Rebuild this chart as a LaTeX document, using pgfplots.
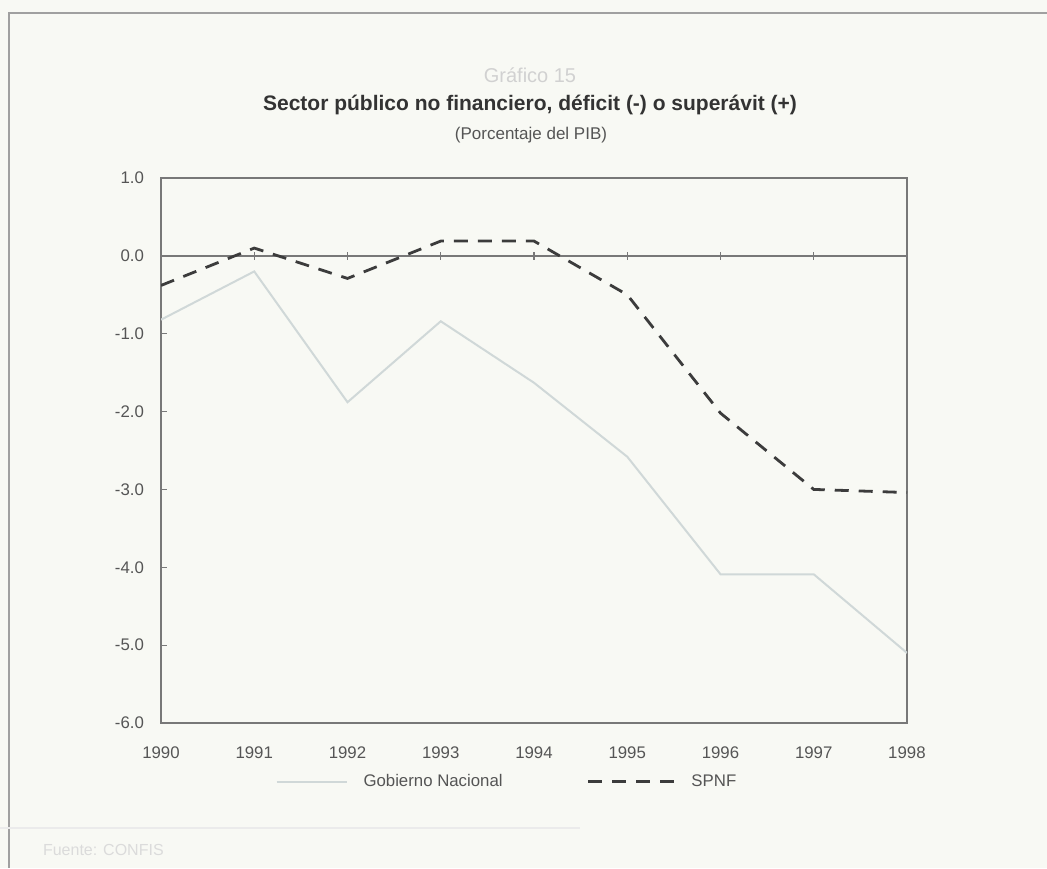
\documentclass[border=0pt]{standalone}
\usepackage{fontspec}
\setmainfont{Liberation Sans}
\usepackage{pgfplots}
\pgfplotsset{compat=1.18}
\definecolor{bg}{RGB}{248,249,244}
\definecolor{framec}{RGB}{160,160,160}
\definecolor{axc}{RGB}{120,120,120}
\definecolor{txt}{RGB}{85,85,85}
\definecolor{gnc}{RGB}{208,216,216}
\definecolor{spc}{RGB}{60,60,60}
\pgfplotsset{
  shortleg/.style={legend image code/.code={\draw[##1] (0pt,0pt) -- (35pt,0pt);}},
  longleg/.style={legend image code/.code={\draw[##1] (0pt,0pt) -- (43pt,0pt);}},
}
\begin{document}
\begin{tikzpicture}
\fill[bg] (0,0) rectangle (523.5pt,434pt);
\path[use as bounding box] (0,0) rectangle (523.5pt,434pt);
\draw[framec,line width=1pt] (4.5pt,0) -- (4.5pt,427.5pt) -- (523.5pt,427.5pt);
\draw[black!8,line width=0.8pt] (0,20pt) -- (290pt,20pt);
\node[text=black!18,font=\fontsize{10}{12}\selectfont] at (265pt,396.5pt) {Gráfico 15};
\node[text=black!80,font=\fontsize{10.5}{12}\selectfont\bfseries] at (265pt,381.5pt) {Sector público no financiero, déficit (-) o superávit (+)};
\node[text=txt,font=\fontsize{8.5}{10}\selectfont] at (265.5pt,366.5pt) {(Porcentaje del PIB)};
\node[text=black!14,font=\fontsize{8}{10}\selectfont,anchor=west] at (18pt,9pt) {Fuente: CONFIS};
\begin{axis}[
  at={(80.5pt,72.5pt)}, anchor=south west,
  width=373pt, height=272.5pt, scale only axis,
  xmin=1990, xmax=1998, ymin=-6, ymax=1,
  xtick={1990,...,1998},
  xticklabels={1990,1991,1992,1993,1994,1995,1996,1997,1998},
  ytick={-6,-5,...,1},
  yticklabel={\pgfmathprintnumber[fixed,fixed zerofill,precision=1]{\tick}},
  /pgf/number format/assume math mode=true,
  ticklabel style={text=txt,font=\fontsize{8.4}{10}\selectfont},
  xticklabel style={yshift=-8.5pt},
  yticklabel style={xshift=-5pt},
  x tick style={draw=none},
  ytick pos=left, tick align=inside,
  y tick style={axc,line width=0.6pt},
  major tick length=3pt,
  axis line style={axc,line width=0.8pt},
  legend columns=2,
  legend style={draw=none,fill=none,at={(0.465,-0.108)},anchor=center,
    font=\fontsize{8.4}{10}\selectfont,text=txt,
    /tikz/every even column/.append style={column sep=40pt},
    /tikz/every odd column/.append style={column sep=6pt}},
  legend cell align=left,
]
\draw[axc,line width=0.8pt] (axis cs:1990,0) -- (axis cs:1998,0);
\addplot[gnc,line width=1pt,shortleg]
  coordinates {(1990,-0.82) (1991,-0.2) (1992,-1.88) (1993,-0.84) (1994,-1.63) (1995,-2.58) (1996,-4.09) (1997,-4.09) (1998,-5.1)};
\addlegendentry{Gobierno Nacional}
\addplot[spc,line width=1.4pt,dash pattern=on 7pt off 5pt,longleg]
  coordinates {(1990,-0.38) (1991,0.1) (1992,-0.29) (1993,0.19) (1994,0.19) (1995,-0.5) (1996,-2.02) (1997,-3.0) (1998,-3.04)};
\addlegendentry{SPNF}
\end{axis}
\begin{axis}[
  at={(80.5pt,72.5pt)}, anchor=south west,
  width=373pt, height=272.5pt, scale only axis,
  xmin=1990, xmax=1998, ymin=-6, ymax=1,
  axis x line=middle, axis y line=none,
  axis line style={draw=none},
  xtick={1991,...,1997}, xticklabels={},
  tick align=center, major tick length=4pt,
  x tick style={axc,line width=0.6pt},
]
\end{axis}
\end{tikzpicture}
\end{document}
